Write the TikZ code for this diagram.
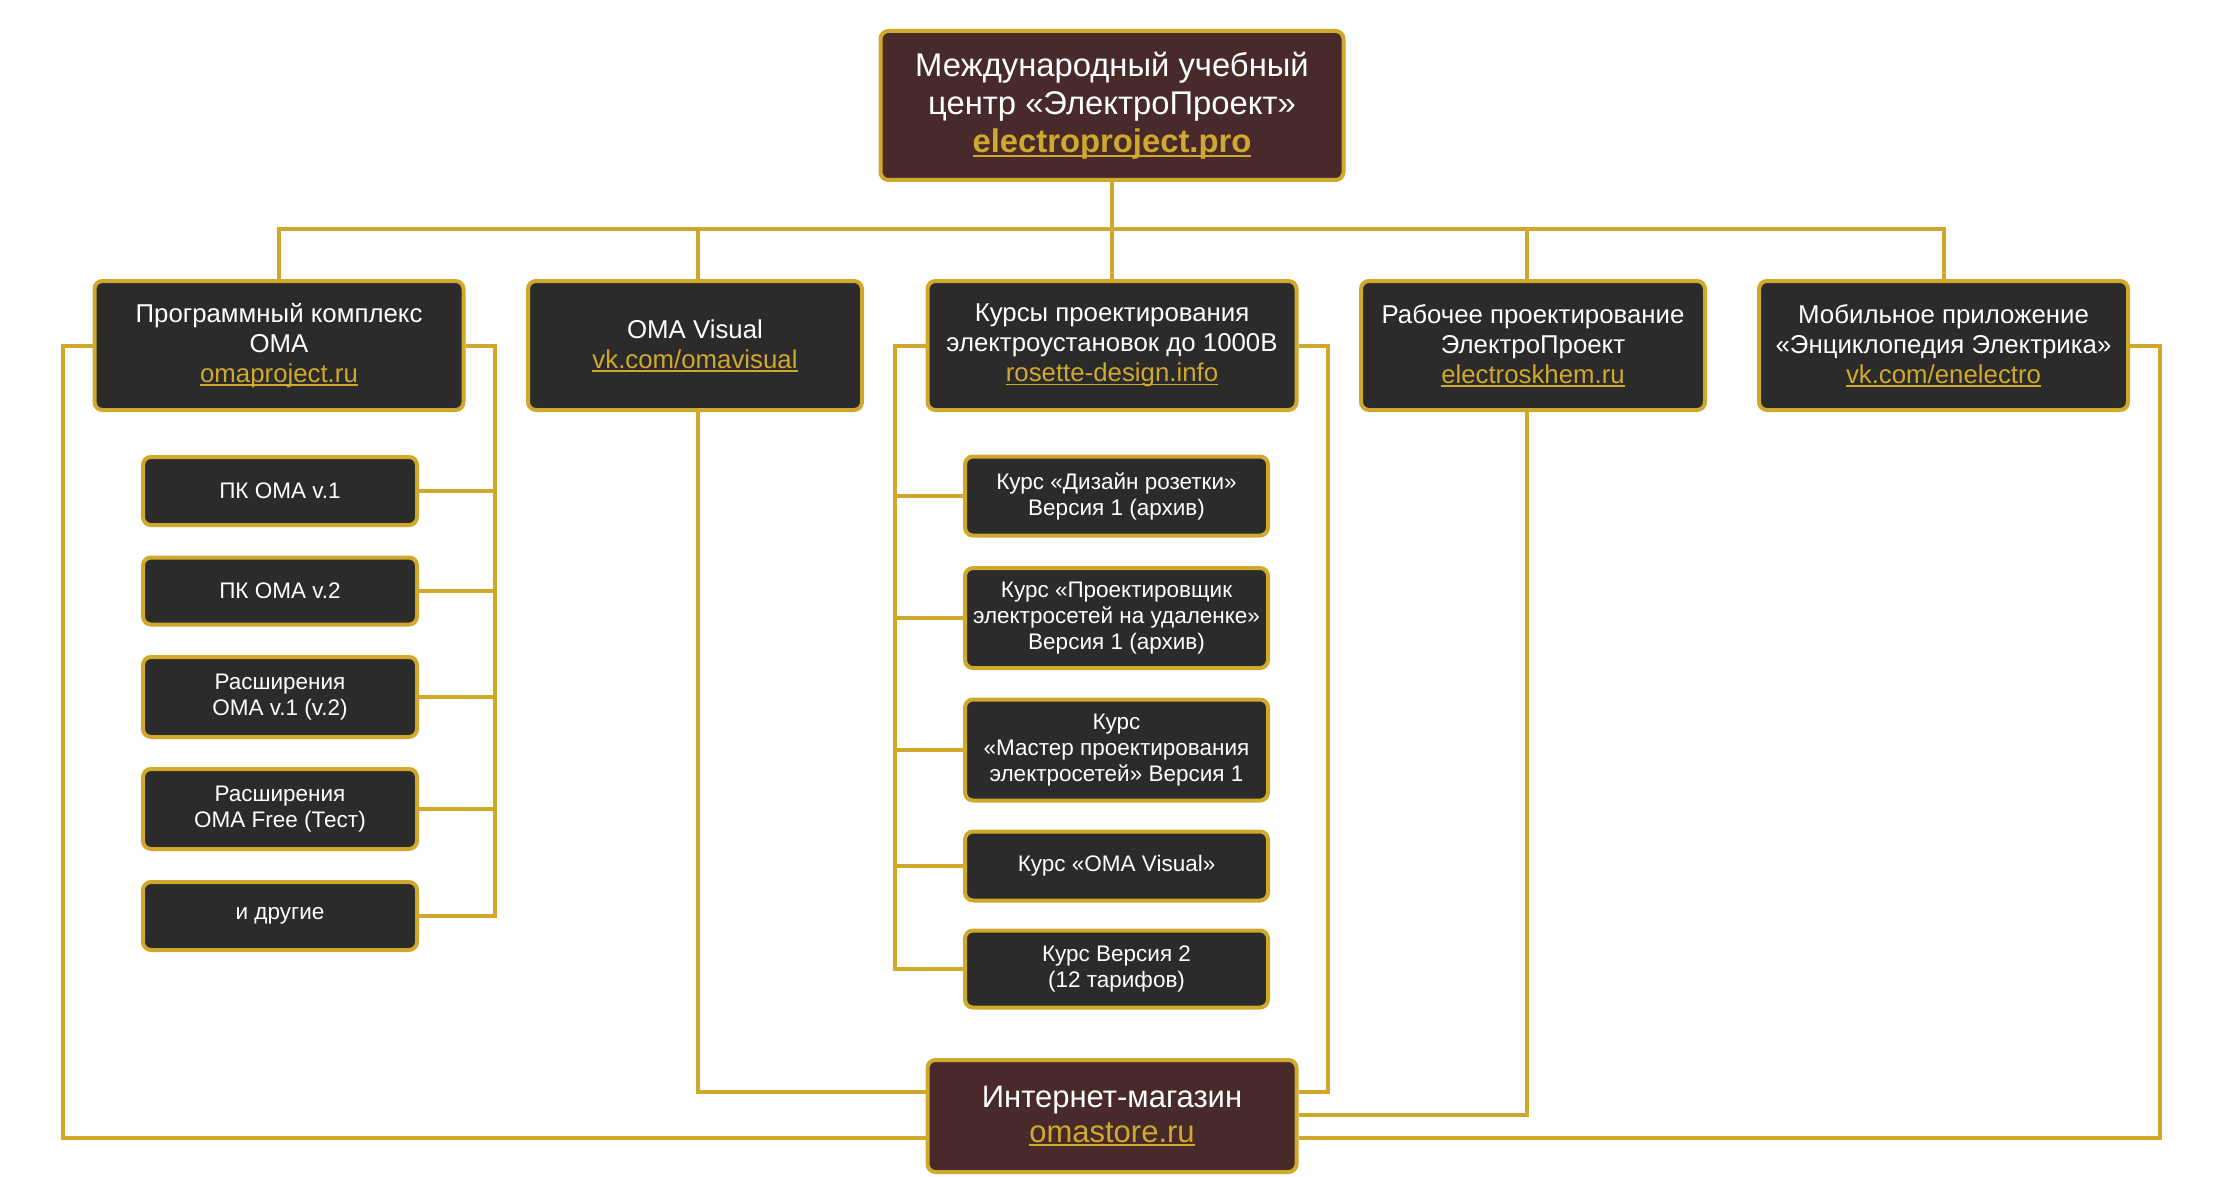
\documentclass[tikz,border=0pt]{standalone}
\usepackage{fontspec}
\setmainfont{Liberation Sans}
\definecolor{gold}{HTML}{D0A92C}
\definecolor{boxdark}{HTML}{2B2B2B}
\definecolor{boxbrown}{HTML}{482A2B}
\newlength\lnkw
\newcommand\lnk[1]{\settowidth\lnkw{#1}\textcolor{gold}{\makebox[0pt][l]{\rule[-0.13em]{\lnkw}{0.055em}}#1}}
\tikzset{
  box/.style={draw=gold, line width=4pt, rounded corners=8pt, text=white, align=center, inner sep=0pt},
  lvl/.style={box, fill=boxdark, font=\fontsize{25.8}{30}\selectfont, minimum height=129pt},
  subbox/.style={box, fill=boxdark, font=\fontsize{22.5}{26}\selectfont},
  hub/.style={box, fill=boxbrown},
  conn/.style={draw=gold, line width=4pt}
}
\begin{document}
\begin{tikzpicture}[x=1pt,y=-1pt]
\useasboundingbox (0,0) rectangle (2226,1177);
% top
\node[hub, minimum width=463pt, minimum height=149pt, font=\fontsize{32.8}{38}\selectfont] (top) at (1112,105.5)
  {Международный учебный\\центр «ЭлектроПроект»\\\lnk{\bfseries electroproject.pro}};
% level 1
\node[lvl, minimum width=369pt] (prog) at (279,345.5) {Программный комплекс\\OMA\\\lnk{omaproject.ru}};
\node[lvl, minimum width=334pt] (visual) at (695,345.5) {OMA Visual\\\lnk{vk.com/omavisual}};
\node[lvl, minimum width=369pt] (courses) at (1112,345.5) {Курсы проектирования\\электроустановок до 1000В\\\lnk{rosette-design.info}};
\node[lvl, minimum width=344pt] (rab) at (1533,345.5) {Рабочее проектирование\\ЭлектроПроект\\\lnk{electroskhem.ru}};
\node[lvl, minimum width=369pt] (mob) at (1943.5,345.5) {Мобильное приложение\\«Энциклопедия Электрика»\\\lnk{vk.com/enelectro}};
% program sub boxes
\node[subbox, minimum width=274pt, minimum height=68pt] (p1) at (280,491) {ПК OMA v.1};
\node[subbox, minimum width=274pt, minimum height=67pt] (p2) at (280,591) {ПК OMA v.2};
\node[subbox, minimum width=274pt, minimum height=80pt] (p3) at (280,697) {Расширения\\OMA v.1 (v.2)};
\node[subbox, minimum width=274pt, minimum height=80pt] (p4) at (280,809) {Расширения\\OMA Free (Тест)};
\node[subbox, minimum width=274pt, minimum height=68pt] (p5) at (280,916) {и другие};
% course sub boxes
\node[subbox, minimum width=303pt, minimum height=79pt] (c1) at (1116.5,496) {Курс «Дизайн розетки»\\Версия 1 (архив)};
\node[subbox, minimum width=303pt, minimum height=100pt] (c2) at (1116.5,618) {Курс «Проектировщик\\электросетей на удаленке»\\Версия 1 (архив)};
\node[subbox, minimum width=303pt, minimum height=101pt] (c3) at (1116.5,750) {Курс\\«Мастер проектирования\\электросетей» Версия 1};
\node[subbox, minimum width=303pt, minimum height=69pt] (c4) at (1116.5,866) {Курс «OMA Visual»};
\node[subbox, minimum width=303pt, minimum height=77pt] (c5) at (1116.5,969) {Курс Версия 2\\(12 тарифов)};
% store
\node[hub, minimum width=369pt, minimum height=112pt, font=\fontsize{31}{35}\selectfont] (store) at (1112,1116)
  {Интернет-магазин\\\lnk{omastore.ru}};
% helper coordinates
\coordinate (bus) at (0,229);
\coordinate (xl) at (63,0);
\coordinate (xr) at (494.6,0);
\coordinate (xv) at (697.5,0);
\coordinate (xcl) at (895,0);
\coordinate (xcr) at (1328,0);
\coordinate (xrab) at (1527,0);
\coordinate (xmr) at (2160,0);
\coordinate (ly1) at (0,1092);
\coordinate (ly2) at (0,1115);
\coordinate (ly3) at (0,1138);
% bus
\draw[conn] (prog.north) |- (mob.north |- bus) -- (mob.north);
\draw[conn] (top.south) -- (courses.north);
\draw[conn] (xv |- visual.north) -- (xv |- bus);
\draw[conn] (xrab |- rab.north) -- (xrab |- bus);
% program
\draw[conn] (prog.east) -| (xr |- p5.east) -- (p5.east);
\foreach \n in {p1,p2,p3,p4} \draw[conn] (\n.east) -- (xr |- \n.east);
\draw[conn] (prog.west) -| (xl |- ly3) -- (store.west |- ly3);
% visual
\draw[conn] (xv |- visual.south) |- (store.west |- ly1);
% courses
\draw[conn] (courses.west) -| (xcl |- c5.west) -- (c5.west);
\foreach \n in {c1,c2,c3,c4} \draw[conn] (\n.west) -- (xcl |- \n.west);
\draw[conn] (courses.east) -| (xcr |- ly1) -- (store.east |- ly1);
% rab
\draw[conn] (xrab |- rab.south) |- (store.east |- ly2);
% mobile
\draw[conn] (mob.east) -| (xmr |- ly3) -- (store.east |- ly3);
\end{tikzpicture}
\end{document}
